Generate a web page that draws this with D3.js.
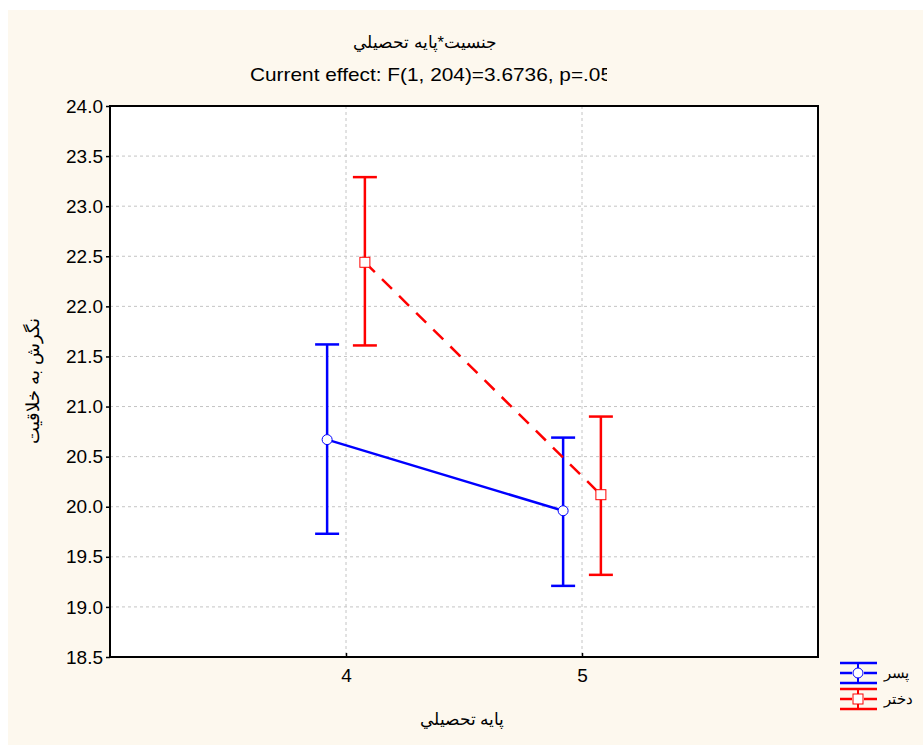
<!DOCTYPE html>
<html>
<head>
<meta charset="utf-8">
<script src="https://cdn.jsdelivr.net/npm/d3@7"></script>
<style>
  body { margin: 0; background: #ffffff; }
  text { font-family: "Liberation Sans", Arial, sans-serif; fill: #000; }
</style>
</head>
<body>
<svg id="chart" width="923" height="745"></svg>
<script>
// data
var categories = [4, 5];
var seriesNames = ["پسر", "دختر"];
var boyMean = [20.67, 19.96];
var boyUpper = [21.62, 20.69];
var boyLower = [19.73, 19.21];
var girlMean = [22.44, 20.12];
var girlUpper = [23.29, 20.90];
var girlLower = [21.61, 19.32];
var yTicks = [18.5, 19.0, 19.5, 20.0, 20.5, 21.0, 21.5, 22.0, 22.5, 23.0, 23.5, 24.0];

var titleText = "جنسيت*پايه تحصيلي";
var subtitleText = "Current effect: F(1, 204)=3.6736, p=.05";
var yLabel = "نگرش به خلاقيت";
var xLabel = "پايه تحصيلي";

var svg = d3.select("#chart");

// cream panel
svg.append("rect")
  .attr("x", 8).attr("y", 10)
  .attr("width", 915).attr("height", 735)
  .attr("fill", "#fdf8ee");

var pLeft = 110, pRight = 818, pTop = 106, pBottom = 657;

var x = d3.scaleLinear().domain([3, 6]).range([pLeft, pRight]);
var y = d3.scaleLinear().domain([18.5, 24]).range([pBottom, pTop]);

svg.append("rect")
  .attr("x", pLeft).attr("y", pTop)
  .attr("width", pRight - pLeft).attr("height", pBottom - pTop)
  .attr("fill", "#ffffff");

// grid
svg.append("g").selectAll("line")
  .data(yTicks.filter(function(d) { return d > 18.5 && d < 24; }))
  .enter().append("line")
  .attr("x1", pLeft).attr("x2", pRight)
  .attr("y1", function(d) { return y(d); })
  .attr("y2", function(d) { return y(d); })
  .attr("stroke", "#c4c4c4").attr("stroke-dasharray", "3,3");

svg.append("g").selectAll("line")
  .data(categories)
  .enter().append("line")
  .attr("x1", function(d) { return x(d); })
  .attr("x2", function(d) { return x(d); })
  .attr("y1", pTop).attr("y2", pBottom)
  .attr("stroke", "#c4c4c4").attr("stroke-dasharray", "3,3");

// frame
svg.append("rect")
  .attr("x", pLeft).attr("y", pTop)
  .attr("width", pRight - pLeft).attr("height", pBottom - pTop)
  .attr("fill", "none").attr("stroke", "#000").attr("stroke-width", 2);

// axes
var yAxis = d3.axisLeft(y).tickValues(yTicks).tickFormat(d3.format(".1f")).tickSize(4).tickPadding(3);
var gy = svg.append("g").attr("transform", "translate(" + pLeft + ",0)").call(yAxis);
gy.select(".domain").remove();
gy.selectAll("text").style("font-size", "19px").attr("fill", "#000");
gy.selectAll("line").attr("stroke", "#000").attr("stroke-width", 1.5);

var xAxis = d3.axisBottom(x).tickValues(categories).tickFormat(d3.format("d")).tickSize(4).tickPadding(12);
var gx = svg.append("g").attr("transform", "translate(0," + (pBottom - 4) + ")").call(xAxis);
gx.select(".domain").remove();
gx.selectAll("text").style("font-size", "19px").attr("fill", "#000");
gx.selectAll("line").attr("stroke", "#000").attr("stroke-width", 1.5);

// titles
svg.append("text")
  .attr("x", 425).attr("y", 48)
  .attr("text-anchor", "middle")
  .style("font-size", "16.5px")
  .text(titleText);

svg.append("clipPath").attr("id", "subclip")
  .append("rect").attr("x", 0).attr("y", 0).attr("width", 607).attr("height", 100);

svg.append("text")
  .attr("x", 250).attr("y", 81)
  .attr("clip-path", "url(#subclip)")
  .attr("textLength", 362)
  .attr("lengthAdjust", "spacingAndGlyphs")
  .style("font-size", "19px")
  .text(subtitleText);

svg.append("text")
  .attr("transform", "translate(39," + 381 + ") rotate(-90)")
  .attr("text-anchor", "middle")
  .style("font-size", "17.5px")
  .text(yLabel);

svg.append("text")
  .attr("x", 462).attr("y", 725)
  .attr("text-anchor", "middle")
  .style("font-size", "16.5px")
  .text(xLabel);

// series
var series = [
  { name: seriesNames[0], mean: boyMean, hi: boyUpper, lo: boyLower, color: "#0000ff", off: -0.08, dash: null, shape: "circle" },
  { name: seriesNames[1], mean: girlMean, hi: girlUpper, lo: girlLower, color: "#ff0000", off: 0.08, dash: "14,10", shape: "square" }
];

var capW = 12;

series.forEach(function(s) {
  var g = svg.append("g");
  var pts = categories.map(function(c, i) {
    return { x: x(c + s.off), m: y(s.mean[i]), hi: y(s.hi[i]), lo: y(s.lo[i]) };
  });

  var line = d3.line().x(function(d) { return d.x; }).y(function(d) { return d.m; });
  g.append("path")
    .datum(pts)
    .attr("d", line)
    .attr("fill", "none")
    .attr("stroke", s.color)
    .attr("stroke-width", 2.5)
    .attr("stroke-dasharray", s.dash);

  pts.forEach(function(p) {
    g.append("line")
      .attr("x1", p.x).attr("x2", p.x).attr("y1", p.hi).attr("y2", p.lo)
      .attr("stroke", s.color).attr("stroke-width", 2.5);
    [p.hi, p.lo].forEach(function(v) {
      g.append("line")
        .attr("x1", p.x - capW).attr("x2", p.x + capW).attr("y1", v).attr("y2", v)
        .attr("stroke", s.color).attr("stroke-width", 2.5);
    });
    if (s.shape == "circle") {
      g.append("circle")
        .attr("cx", p.x).attr("cy", p.m).attr("r", 5)
        .attr("fill", "#fff").attr("stroke", s.color).attr("stroke-width", 1);
    } else {
      g.append("rect")
        .attr("x", p.x - 5).attr("y", p.m - 5).attr("width", 10).attr("height", 10)
        .attr("fill", "#fff").attr("stroke", s.color).attr("stroke-width", 1);
    }
  });
});

// legend
var lg = svg.append("g");
series.forEach(function(s, i) {
  var cy = 673 + i * 26;
  var x0 = 840, x1 = 877, cx = 858;
  [cy - 10, cy + 10].forEach(function(v) {
    lg.append("line").attr("x1", x0).attr("x2", x1).attr("y1", v).attr("y2", v)
      .attr("stroke", s.color).attr("stroke-width", 2.5);
  });
  lg.append("line").attr("x1", x0).attr("x2", cx - 6).attr("y1", cy).attr("y2", cy)
    .attr("stroke", s.color).attr("stroke-width", 2.5);
  lg.append("line").attr("x1", cx + 6).attr("x2", x1).attr("y1", cy).attr("y2", cy)
    .attr("stroke", s.color).attr("stroke-width", 2.5);
  lg.append("line").attr("x1", cx).attr("x2", cx).attr("y1", cy - 10).attr("y2", cy + 10)
    .attr("stroke", s.color).attr("stroke-width", 2);
  if (s.shape == "circle") {
    lg.append("circle").attr("cx", cx).attr("cy", cy).attr("r", 5)
      .attr("fill", "#fff").attr("stroke", s.color).attr("stroke-width", 1);
  } else {
    lg.append("rect").attr("x", cx - 5).attr("y", cy - 5).attr("width", 10).attr("height", 10)
      .attr("fill", "#fff").attr("stroke", s.color).attr("stroke-width", 1);
  }
  lg.append("text")
    .attr("x", 884).attr("y", cy + 5)
    .style("font-size", "15px")
    .text(s.name);
});
</script>
</body>
</html>
